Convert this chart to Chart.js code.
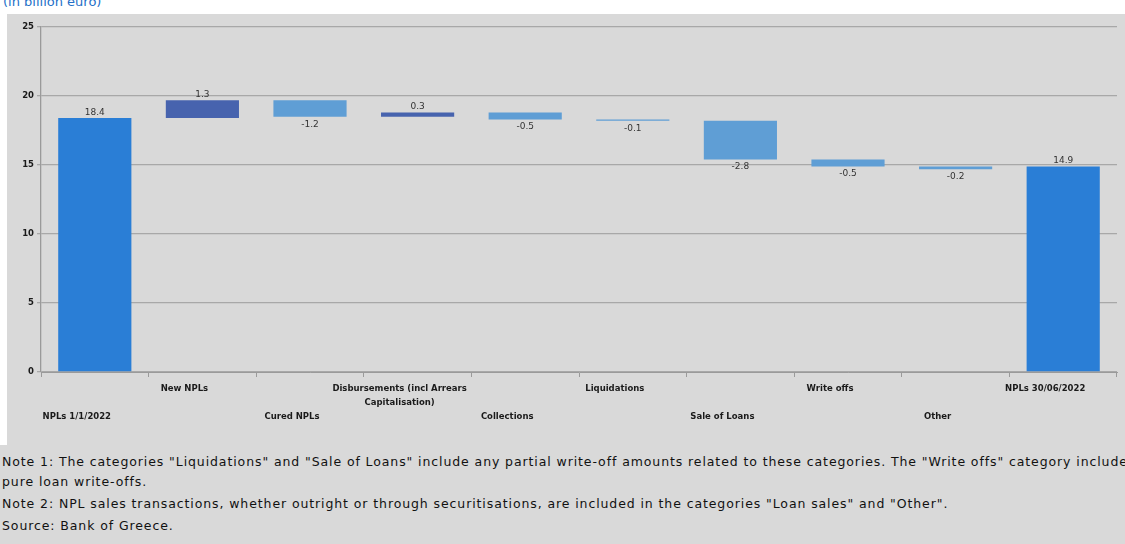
<!DOCTYPE html>
<html>
<head>
<meta charset="utf-8">
<script src="https://cdn.jsdelivr.net/npm/chart.js@4/dist/chart.umd.min.js"></script>
<style>
  html, body { margin: 0; padding: 0; }
  body { width: 1125px; height: 544px; overflow: hidden; background: #ffffff; position: relative; font-family: "DejaVu Sans", sans-serif; }
  #unit { position: absolute; left: 3px; top: -5px; font-size: 13px; line-height: 14px; color: #2470c8; white-space: nowrap; }
  #box { position: absolute; left: 7px; top: 14px; width: 1118px; height: 431px; background: #d9d9d9; }
  #notes { position: absolute; left: 0; top: 445px; width: 1125px; height: 99px; background: #d9d9d9; color: #111111; font-size: 12.5px; letter-spacing: 0.9px; overflow: hidden; }
  #notes p { margin: 0; padding-left: 2px; line-height: 20px; white-space: nowrap; }
  #notes p + p { margin-top: 2px; }
</style>
</head>
<body>
<div id="unit">(in billion euro)</div>
<div id="box"><canvas id="myChart"></canvas></div>
<div id="notes">
  <p style="margin-top:7px">Note 1: The categories "Liquidations" and "Sale of Loans" include any partial write-off amounts related to these categories. The "Write offs" category includes<br>pure loan write-offs.</p>
  <p>Note 2: NPL sales transactions, whether outright or through securitisations, are included in the categories "Loan sales" and "Other".</p>
  <p>Source: Bank of Greece.</p>
</div>
<script>
// stock of NPLs and the flows between the two dates (billion euro)
const categories = ['NPLs 1/1/2022', 'New NPLs', 'Cured NPLs', ['Disbursements (incl Arrears', 'Capitalisation)'],
  'Collections', 'Liquidations', 'Sale of Loans', 'Write offs', 'Other', 'NPLs 30/06/2022']
const startStock = 18.4
const endStock = 14.9
const flows = [1.3, -1.2, 0.3, -0.5, -0.1, -2.8, -0.5, -0.2]
const yTicks = [0, 5, 10, 15, 20, 25]

const TOTAL_COLOR = '#2a7ed6'
const UP_COLOR = '#4763ae'
const DOWN_COLOR = '#5f9ed5'

// floating bars: [from, to]
let bars = [[0, startStock]]
let labels = [startStock]
let colors = [TOTAL_COLOR]
let running = startStock
for (let i = 0; i < flows.length; i++) {
  let next = Math.round((running + flows[i]) * 10) / 10
  bars.push([running, next])
  labels.push(flows[i])
  colors.push(flows[i] >= 0 ? UP_COLOR : DOWN_COLOR)
  running = next
}
bars.push([0, endStock])
labels.push(endStock)
colors.push(TOTAL_COLOR)

// value above the bar for increases/totals, below for decreases
const valueLabels = {
  id: 'valueLabels',
  afterDatasetsDraw(chart) {
    const ctx = chart.ctx
    const meta = chart.getDatasetMeta(0)
    ctx.save()
    ctx.font = '9px "DejaVu Sans"'
    ctx.fillStyle = '#333333'
    ctx.textAlign = 'center'
    meta.data.forEach(function (bar, i) {
      let v = labels[i]
      let top = Math.min(bar.y, bar.base)
      let bottom = Math.max(bar.y, bar.base)
      if (v < 0) {
        ctx.textBaseline = 'top'
        ctx.fillText(v.toFixed(1), bar.x, bottom + 3)
      } else {
        ctx.textBaseline = 'bottom'
        ctx.fillText(v.toFixed(1), bar.x, top - 1)
      }
    })
    ctx.restore()
  }
}

function updateGraph() {
  var ctx = document.getElementById('myChart').getContext('2d')
  var chart = new Chart(ctx, {
    type: 'bar',
    data: {
      labels: categories,
      datasets: [{
        data: bars,
        backgroundColor: colors,
        borderWidth: 0,
        barPercentage: 0.68,
        categoryPercentage: 1
      }]
    },
    options: {
      responsive: true,
      maintainAspectRatio: false,
      animation: false,
      layout: { padding: { top: 13, right: 8, left: 0, bottom: 0 } },
      plugins: { legend: { display: false }, tooltip: { enabled: false } },
      scales: {
        x: {
          grid: { display: true, drawOnChartArea: false, offset: true, tickLength: 5, color: '#9a9a9a' },
          border: { display: true, color: '#9a9a9a', width: 1 },
          ticks: {
            autoSkip: false,
            maxRotation: 0,
            padding: 5,
            labelOffset: -18,
            color: '#1a1a1a',
            font: { family: 'DejaVu Sans', size: 8.5, weight: 'bold', lineHeight: '14px' },
            // stagger the category names on two rows
            callback: function (value, index) {
              let name = categories[index]
              if (index % 2 === 0) return ['', '', name]
              return name
            }
          },
          afterFit: function (scale) { scale.height = 73 }
        },
        y: {
          min: 0,
          max: 25,
          afterBuildTicks: function (scale) { scale.ticks = yTicks.map(v => ({ value: v })) },
          grid: { color: '#a8a8a8', lineWidth: 1.3, tickLength: 4 },
          border: { display: true, color: '#9a9a9a', width: 1.3 },
          ticks: {
            padding: 3,
            color: '#1a1a1a',
            font: { family: 'DejaVu Sans', size: 8.5, weight: 'bold' }
          },
          afterFit: function (scale) { scale.width = 34 }
        }
      }
    },
    plugins: [valueLabels]
  })
}

updateGraph()
</script>
</body>
</html>
